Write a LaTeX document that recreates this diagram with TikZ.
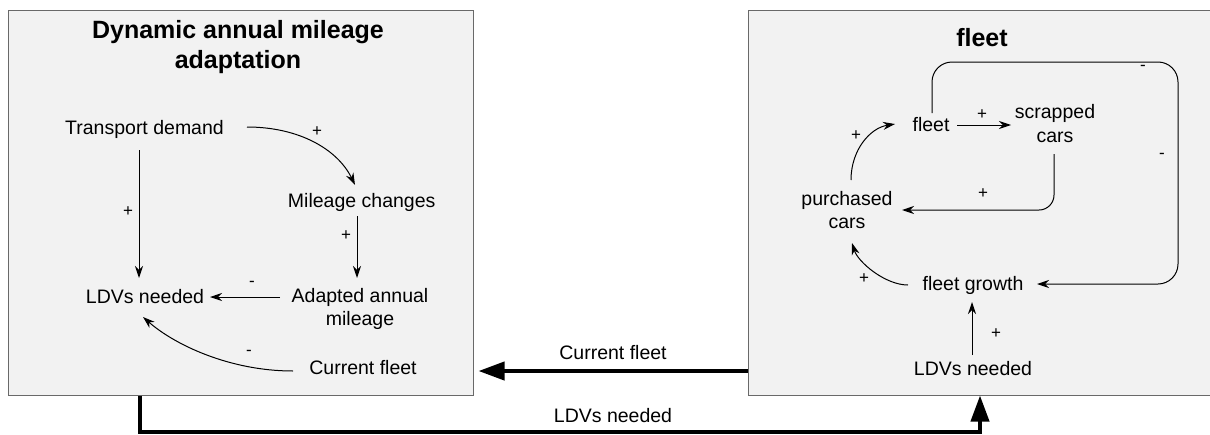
\documentclass[tikz,border=0pt]{standalone}
\usepackage{fontspec}
\setmainfont{Liberation Sans}
\usetikzlibrary{arrows.meta,calc}
\definecolor{boxfill}{RGB}{242,242,242}
\definecolor{boxgray}{RGB}{105,105,105}
\begin{document}
\begin{tikzpicture}[x=1pt,y=-1pt,
  txt/.style={font=\fontsize{19.5}{23.5}\selectfont, inner sep=0pt, align=center},
  ttl/.style={font=\fontsize{25}{30}\selectfont\bfseries, inner sep=0pt, align=center},
  pol/.style={font=\fontsize{17}{20}\selectfont, inner sep=0pt},
  lnk/.style={-{Stealth[length=12pt,width=8pt]}, line width=1pt},
  bigbox/.style={draw=boxgray, fill=boxfill, line width=1pt, inner sep=0pt},
  biglnk/.style={-{Triangle[length=26pt,width=18pt]}, line width=4pt}
]
\useasboundingbox (0,0) rectangle (1210,434);
% boxes
\node[bigbox, minimum width=465pt, minimum height=385pt] (lbox) at (240.5,202.5) {};
\node[bigbox, minimum width=466pt, minimum height=385pt] (rbox) at (981,202.5) {};

% left box content
\node[ttl] (ltitle) at (238,47) {Dynamic annual mileage\\adaptation};
\node[txt] (td) at (144.5,129) {Transport demand};
\node[txt] (mc) at (361.7,202) {Mileage changes};
\node[txt] (ldv) at (145,297) {LDVs needed};
\node[txt] (aam) at (360,309) {Adapted annual\\mileage};
\node[txt] (cf) at (363,368) {Current fleet};

\draw[lnk] ($(td)+(-5.5,21)$) -- ($(ldv)+(-6,-19)$);
\draw[lnk] ($(td)+(102.5,-2)$) .. controls (300,127) and (338,150) .. ($(mc)+(-6.7,-17)$);
\draw[lnk] ($(mc)+(-4.7,14)$) -- ($(aam)+(-3,-31)$);
\draw[lnk] ($(aam)+(-80,-12)$) -- ($(ldv)+(65,0)$);
\draw[lnk] ($(cf)+(-70,3)$) .. controls (230,371) and (175,345) .. ($(ldv)+(-2,20)$);

\node[pol] (p1) at (128,212) {+};
\node[pol] (p2) at (317,132) {+};
\node[pol] (p3) at (346,236) {+};
\node[pol] (p4) at (252,284) {-};
\node[pol] (p5) at (249,353) {-};

% right box content
\node[ttl] (rtitle) at (982,38) {fleet};
\node[txt] (fl) at (931,125) {fleet};
\node[txt] (sc) at (1055,123.5) {scrapped\\cars};
\node[txt] (pc) at (847,210) {purchased\\cars};
\node[txt] (fg) at (973,285) {fleet growth};
\node[txt] (ldvb) at (973,369) {LDVs needed};
\coordinate (looptr) at (1178,62);

\draw[lnk] ($(fl)+(26,0)$) -- ($(sc)+(-44,1.5)$);
\draw[lnk] ($(pc)+(4,-30)$) .. controls (851,150) and (870,128) .. ($(fl)+(-36,-1)$);
\draw[lnk, rounded corners=15pt] ($(sc)+(-1,30.5)$) |- ($(pc)+(55,0)$);
\draw[lnk] ($(fg)+(-65,0)$) .. controls (885,285) and (858,262) .. ($(pc)+(5,33)$);
\draw[lnk] ($(ldvb)+(-1,-14)$) -- ($(fg)+(-1,17)$);
\draw[lnk, rounded corners=20pt] ($(fl)+(1,-12)$) |- (looptr) |- ($(fg)+(64,-1)$);

\node[pol] (q1) at (982,115) {+};
\node[pol] (q2) at (856,136) {+};
\node[pol] (q3) at (983,194) {+};
\node[pol] (q4) at (864,279) {+};
\node[pol] (q5) at (996,334) {+};
\node[pol] (q6) at (1162,156) {-};
\node[pol] (q7) at (1143,68) {-};

% connectors between the boxes
\coordinate (dropl) at (140,431.5);
\coordinate (riser) at (980,431.5);
\draw[biglnk] ($(rbox.west |- cf)+(0,3)$) -- node[txt, above=9pt] (cflbl) {Current fleet} ($(lbox.east |- cf)+(5,3)$);
\draw[biglnk] (lbox.south -| dropl) -- (dropl) -- (riser) -- (rbox.south -| riser);
\node[txt] (ldvlbl) at (613,416) {LDVs needed};
\end{tikzpicture}
\end{document}
